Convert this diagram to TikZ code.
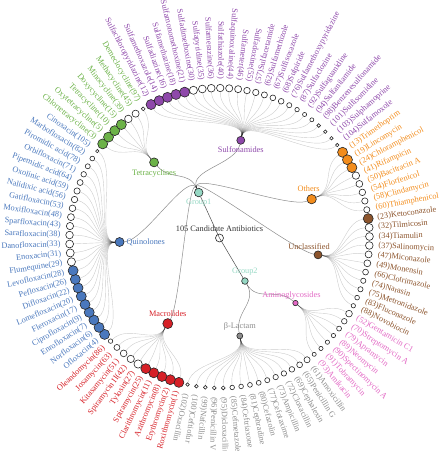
\documentclass[tikz,border=0pt]{standalone}
\usepackage{fontspec}
\setmainfont{Liberation Serif}
\usetikzlibrary{positioning,backgrounds}
\definecolor{mac}{RGB}{214,32,39}
\definecolor{qui}{RGB}{74,120,189}
\definecolor{tet}{RGB}{108,178,72}
\definecolor{sul}{RGB}{142,72,170}
\definecolor{oth}{RGB}{242,140,28}
\definecolor{unc}{RGB}{140,84,44}
\definecolor{ami}{RGB}{226,104,196}
\definecolor{bla}{RGB}{140,140,140}
\definecolor{grp}{RGB}{150,216,196}
\def\angmac{238.86}\def\angqui{182.29}\def\angtet{130.86}\def\angsul{77.71}
\def\angoth{22.86}\def\angunc{-9.71}\def\angami{-40.57}\def\angbla{-78.29}
\def\anggone{114.57}\def\anggtwo{-59.43}
\begin{document}
\begin{tikzpicture}[x=1pt,y=1pt,
	dot/.style={circle,draw=black!85,line width=0.6pt,inner sep=0pt,minimum size=#1},
	lbl/.style={font=\fontsize{8.3}{9}\selectfont,inner sep=1pt},
	leaflink/.style={black,opacity=0.2,line width=0.4pt},
	grouplink/.style={black,opacity=0.45,line width=0.5pt}]
\useasboundingbox (-219.5,-213) rectangle (224.5,238);
\node[dot=8pt] (root) at (0,0) {};
\node[lbl,text=black!80,above=1pt of root] (roottxt) {105 Candidate Antibiotics};
\node[dot=8.6pt,fill=grp] (g1) at (\anggone:50) {};
\node[lbl,text=grp,below=1pt of g1] (g1txt) {Group1};
\node[dot=6.6pt,fill=grp] (g2) at (\anggtwo:50) {};
\node[lbl,text=grp,above=1pt of g2] (g2txt) {Group2};
\foreach \c/\r in {mac/10,qui/9,tet/9,sul/8,oth/9.4,unc/8,ami/5.4,bla/6}
	\node[dot=\r pt,fill=\c] (\c) at (\csname ang\c\endcsname:100) {};
\node[lbl,text=mac,above=1pt of mac] (mactxt) {Macrolides};
\node[lbl,text=qui,right=1pt of qui] (quitxt) {Quinolones};
\node[lbl,text=tet,below=1pt of tet] (tettxt) {Tetracyclines};
\node[lbl,text=sul,below=1pt of sul] (sultxt) {Sulfonamides};
\node[lbl,text=oth,above=1pt of oth,xshift=-3pt] (othtxt) {Others};
\node[lbl,text=unc,above=0pt of unc,xshift=-9pt] (unctxt) {Unclassified};
\node[lbl,text=ami,above=0pt of ami,xshift=-4pt] (amitxt) {Aminoglycosides};
\node[lbl,text=bla,above=1pt of bla] (blatxt) {β-Lactam};
\begin{scope}[on background layer]
\draw[grouplink,opacity=0.7] (root.center) -- (g1);
\draw[grouplink,opacity=0.7] (root.center) -- (g2);
\foreach \c in {mac,qui,tet,sul,oth,unc}
	\draw[grouplink] (g1) .. controls (\anggone:75) and (\csname ang\c\endcsname:75) .. (\c);
\foreach \c in {ami,bla}
	\draw[grouplink] (g2) .. controls (\anggtwo:75) and (\csname ang\c\endcsname:75) .. (\c);
\end{scope}
\foreach \nm/\rk/\cat/\fl [count=\i from 0] in {
	Roxithromycin/1/mac/1,Erythromycin/2/mac/1,Azithromycin/8/mac/1,Clarithromycin/11/mac/1,Spiramycin/25/mac/1,Tylosin/27/mac/0,Spiramycin II/42/mac/0,Kitasamycin/51/mac/0,Josamycin/63/mac/0,Oleandomycin/86/mac/0,
	Ofloxacin/4/qui/1,Norfloxacin/6/qui/1,Enrofloxacin/7/qui/1,Ciprofloxacin/9/qui/1,Fleroxacin/17/qui/1,Lomefloxacin/20/qui/1,Difloxacin/22/qui/1,Pefloxacin/26/qui/1,Levofloxacin/28/qui/1,Flumequine/29/qui/0,Enoxacin/31/qui/0,Danofloxacin/33/qui/0,Sarafloxacin/38/qui/0,Sparfloxacin/43/qui/0,Moxifloxacin/48/qui/0,Gatifloxacin/53/qui/0,Nalidixic acid/56/qui/0,Oxolinic acid/59/qui/0,Pipemidic acid/64/qui/0,Orbifloxacin/71/qui/0,Piromidic acid/78/qui/0,Marbofloxacin/82/qui/0,Cinoxacin/105/qui/0,
	Chlortetracycline/3/tet/1,Oxytetracycline/5/tet/1,Tetracycline/10/tet/1,Doxycycline/15/tet/1,Minocycline/39/tet/0,Methacycline/45/tet/0,Demeclocycline/97/tet/0,
	Sulfachloropyridazine/12/sul/1,Sulfamethoxazole/14/sul/1,Sulfadiazine/16/sul/1,Sulfamethazine/18/sul/1,Sulfamonomethoxine/21/sul/1,Sulfadimethoxine/30/sul/0,Sulfapyridine/35/sul/0,Sulfamerazine/36/sul/0,Sulfathiazole/40/sul/0,Sulfaquinoxaline/44/sul/0,Sulfameter/46/sul/0,Sulfadoxine/55/sul/0,Sulfacetamide/57/sul/0,Sulfamethizole/62/sul/0,Sulfisoxazole/67/sul/0,Sulpiride/68/sul/0,Sulfamethoxypyridazine/76/sul/0,Sulfaclozine/87/sul/0,Sulfaguanidine/92/sul/0,Sulfanilamide/94/sul/0,Benzenesulfonamide/98/sul/0,Sulfisomidine/101/sul/0,Sulphamoprine/103/sul/0,Sulfamoxole/104/sul/0,
	Trimethoprim/13/oth/1,Lincomycin/19/oth/1,Chloramphenicol/24/oth/1,Rifampicin/41/oth/0,Bacitracin A/50/oth/0,Florfenicol/54/oth/0,Clindamycin/58/oth/0,Thiamphenicol/60/oth/0,
	Ketoconazole/23/unc/1,Tilmicosin/32/unc/0,Tiamulin/34/unc/0,Salinomycin/37/unc/0,Miconazole/47/unc/0,Monensin/49/unc/0,Clotrimazole/66/unc/0,Narasin/74/unc/0,Metronidazole/75/unc/0,Fluconazole/83/unc/0,Novobiocin/88/unc/0,
	Gentamicin C1/52/ami/0,Streptomycin A/70/ami/0,Apramycin/79/ami/0,Neomycin/89/ami/0,Spectinomycin A/90/ami/0,Tobramycin/91/ami/0,Amikacin/93/ami/0,
	Amoxicillin/61/bla/0,Penicillin G/65/bla/0,Cephalexin/69/bla/0,Cloxacillin/72/bla/0,Ampicillin/73/bla/0,Cefotaxime/77/bla/0,Cefazolin/80/bla/0,Cephradine/81/bla/0,Ceftriaxone/84/bla/0,Cefmetazole/85/bla/0,Dicloxacillin/95/bla/0,Penicillin V/96/bla/0,Nafcillin/99/bla/0,Ceftiofur/100/bla/0,Oxacillin/102/bla/0}{
	\pgfmathsetmacro\ang{254.29-\i*3.428571}
	\pgfmathsetmacro\sz{\fl==1 ? 10 : 2*(5-0.032*\rk)}
	\ifnum\fl=1 \def\fc{\cat}\else\def\fc{white}\fi
	\node[dot=\sz pt,fill=\fc] (l\i) at (\ang:150) {};
	\ifnum\i<52
		\node[lbl,text=\cat,anchor=east,rotate=\ang+180] (t\i) at (\ang:158) {\nm(\rk)};
	\else
		\node[lbl,text=\cat,anchor=west,rotate=\ang] (t\i) at (\ang:158) {(\rk)\nm};
	\fi
	\begin{scope}[on background layer]
		\draw[leaflink] (\cat) .. controls (\csname ang\cat\endcsname:125) and (\ang:125) .. (l\i);
	\end{scope}
}
\end{tikzpicture}
\end{document}
